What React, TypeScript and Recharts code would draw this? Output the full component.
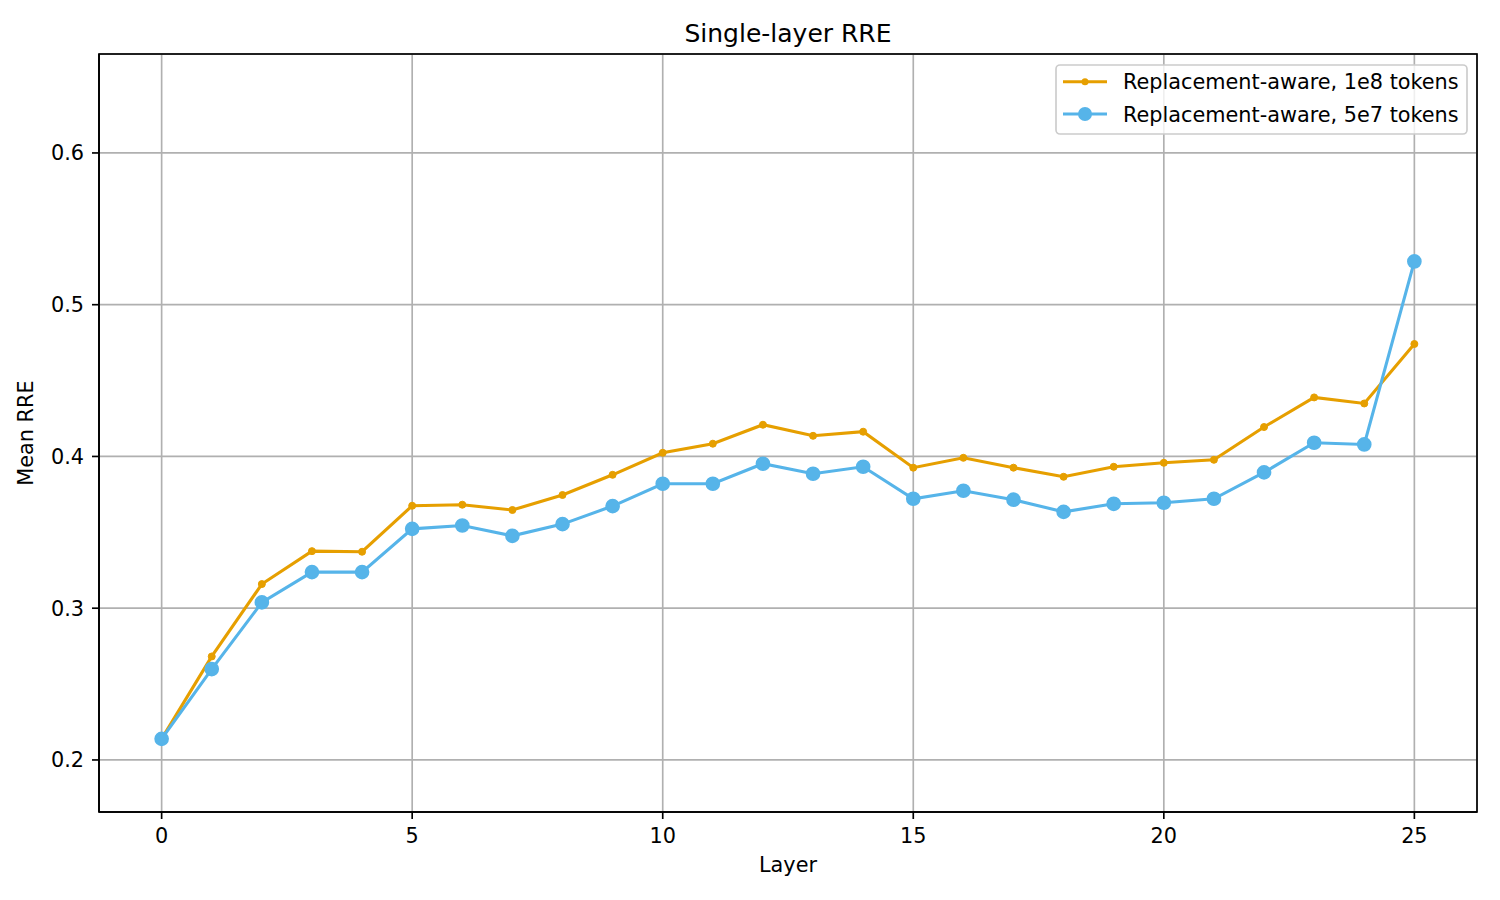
import React from 'react'
import { LineChart, Line, XAxis, YAxis, CartesianGrid } from 'recharts'

const layers = [0, 1, 2, 3, 4, 5, 6, 7, 8, 9, 10, 11, 12, 13, 14, 15, 16, 17, 18, 19, 20, 21, 22, 23, 24, 25]

const rre1e8 = [
  0.2139, 0.2682, 0.3159, 0.3376, 0.3372, 0.3675, 0.3682, 0.3647, 0.3746, 0.3879, 0.4024, 0.4084, 0.4209,
  0.4136, 0.4163, 0.3926, 0.3991, 0.3926, 0.3866, 0.3932, 0.3958, 0.3978, 0.4194, 0.4389, 0.4349, 0.4741,
]

const rre5e7 = [
  0.2139, 0.2599, 0.3038, 0.3238, 0.3238, 0.3523, 0.3545, 0.3477, 0.3554, 0.3673, 0.382, 0.382, 0.3952,
  0.3886, 0.3932, 0.3721, 0.3774, 0.3715, 0.3635, 0.3688, 0.3695, 0.3721, 0.3895, 0.409, 0.4079, 0.5285,
]

const seriesNames = ['Replacement-aware, 1e8 tokens', 'Replacement-aware, 5e7 tokens']
const xTicks = [0, 5, 10, 15, 20, 25]
const yTicks = [0.2, 0.3, 0.4, 0.5, 0.6]

const ORANGE = '#E69F00'
const BLUE = '#56B4E9'
const FONT = 'DejaVu Sans'

const data = layers.map((layer, i) => ({ layer, a: rre1e8[i], b: rre5e7[i] }))

const tickStyle = { fill: '#000', fontSize: 20.8, fontFamily: FONT }
const spine = { stroke: '#000', strokeWidth: 1.67 }

// plot box, used only for the frame drawn on top
const PLOT = { x: 99, y: 54, w: 1378, h: 758 }

export default function App() {
  return (
    <div style={{ position: 'absolute', left: 0, top: 0, width: 1500, height: 900, background: '#fff' }}>
      <LineChart width={1500} height={900} data={data} margin={{ top: 54, right: 23, left: 0, bottom: 0 }}>
        <CartesianGrid stroke="#b0b0b0" strokeWidth={1.67} />
        <XAxis
          dataKey="layer"
          type="number"
          domain={[-1.25, 26.25]}
          ticks={xTicks}
          interval={0}
          allowDataOverflow
          height={88}
          tickSize={7}
          tickMargin={9}
          tick={tickStyle}
          tickLine={spine}
          axisLine={spine}
        />
        <YAxis
          type="number"
          domain={[0.1657, 0.6652]}
          ticks={yTicks}
          interval={0}
          allowDataOverflow
          width={99}
          tickSize={7}
          tickMargin={8}
          tick={tickStyle}
          tickLine={spine}
          axisLine={spine}
          tickFormatter={(v: number) => v.toFixed(1)}
        />
        <Line
          type="linear"
          dataKey="a"
          name={seriesNames[0]}
          stroke={ORANGE}
          strokeWidth={3.1}
          dot={{ r: 3.5, fill: ORANGE, stroke: ORANGE, strokeWidth: 1 }}
          isAnimationActive={false}
        />
        <Line
          type="linear"
          dataKey="b"
          name={seriesNames[1]}
          stroke={BLUE}
          strokeWidth={3.1}
          dot={{ r: 6.5, fill: BLUE, stroke: BLUE, strokeWidth: 1.67 }}
          isAnimationActive={false}
        />
      </LineChart>
      <svg
        width={1500}
        height={900}
        style={{ position: 'absolute', left: 0, top: 0, pointerEvents: 'none' }}
        fontFamily={FONT}
      >
        <rect x={PLOT.x} y={PLOT.y} width={PLOT.w} height={PLOT.h} fill="none" stroke="#000" strokeWidth={1.67} />
        <text x={788} y={41.7} textAnchor="middle" fontSize={25} fill="#000">
          Single-layer RRE
        </text>
        <text x={788} y={872} textAnchor="middle" fontSize={20.8} fill="#000">
          Layer
        </text>
        <text
          x={0}
          y={0}
          transform="translate(33.3, 433) rotate(-90)"
          textAnchor="middle"
          fontSize={20.8}
          fill="#000"
        >
          Mean RRE
        </text>
        <rect x={1056} y={65} width={411} height={69} rx={4} fill="rgba(255,255,255,0.8)" stroke="#cccccc" strokeWidth={1.67} />
        <line x1={1063} x2={1107} y1={81.7} y2={81.7} stroke={ORANGE} strokeWidth={3.1} />
        <circle cx={1085} cy={81.7} r={3.5} fill={ORANGE} />
        <text x={1123} y={89.3} fontSize={20.8} fill="#000">
          {seriesNames[0]}
        </text>
        <line x1={1063} x2={1107} y1={114} y2={114} stroke={BLUE} strokeWidth={3.1} />
        <circle cx={1085} cy={114} r={7} fill={BLUE} />
        <text x={1123} y={121.7} fontSize={20.8} fill="#000">
          {seriesNames[1]}
        </text>
      </svg>
    </div>
  )
}
